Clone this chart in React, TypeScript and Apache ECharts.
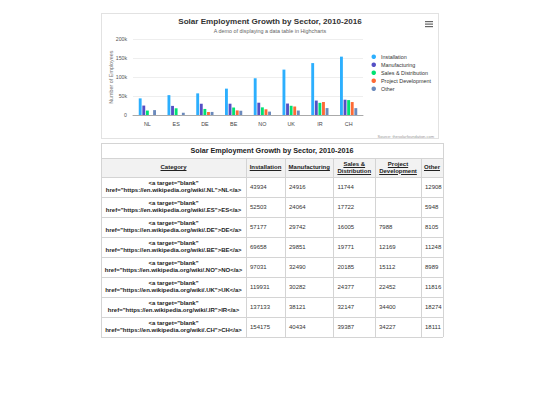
import React, { useEffect, useRef } from "react";
import * as echarts from "echarts";

const categories = ["NL", "ES", "DE", "BE", "NO", "UK", "IR", "CH"];
const installation = [43934, 52503, 57177, 69658, 97031, 119931, 137133, 154175];
const manufacturing = [24916, 24064, 29742, 29851, 32490, 30282, 38121, 40434];
const salesDistribution = [11744, 17722, 16005, 19771, 20185, 24377, 32147, 39387];
const projectDevelopment: (number | null)[] = [null, null, 7988, 12169, 15112, 22452, 34400, 34227];
const other = [12908, 5948, 8105, 11248, 8989, 11816, 18274, 18111];
const seriesNames = ["Installation", "Manufacturing", "Sales & Distribution", "Project Development", "Other"];
const seriesColors = ["#2caffe", "#544fc5", "#00e272", "#fe6a35", "#6b8abc"];
const yTickLabels = ["0", "50k", "100k", "150k", "200k"];
const tableHeaders = [["Category"], ["Installation"], ["Manufacturing"], ["Sales &", "Distribution"], ["Project", "Development"], ["Other"]];
const titleText = "Solar Employment Growth by Sector, 2010-2016";

const FONT = '"Liberation Sans", Arial, Helvetica, sans-serif';

const ChartBox: React.FC = () => {
  const ref = useRef<HTMLDivElement>(null);
  useEffect(() => {
    if (!ref.current) return;
    const chart = echarts.init(ref.current, undefined, { renderer: "svg" });
    const allSeries = [installation, manufacturing, salesDistribution, projectDevelopment, other];
    chart.setOption({
      animation: false,
      textStyle: { fontFamily: FONT },
      color: seriesColors,
      grid: { left: 32, right: 76, top: 26.3, bottom: 24, containLabel: false, outerBoundsMode: "none" },
      legend: {
        orient: "vertical",
        left: 270.5,
        top: 40.7,
        icon: "circle",
        itemWidth: 4.5,
        itemHeight: 4.5,
        itemGap: 2,
        padding: 0,
        textStyle: { fontSize: 5.4, lineHeight: 6, color: "#333", fontFamily: FONT },
        data: seriesNames,
      },
      xAxis: {
        type: "category",
        data: categories,
        axisTick: { show: false },
        axisLine: { lineStyle: { color: "#aaa", width: 1 } },
        axisLabel: { fontSize: 5.4, color: "#444", margin: 6, fontFamily: FONT },
      },
      yAxis: {
        type: "value",
        min: 0,
        max: 200000,
        interval: 50000,
        name: "Number of Employees",
        nameLocation: "middle",
        nameGap: 20,
        nameMoveOverlap: false,
        nameTextStyle: { fontSize: 5.4, color: "#777", fontFamily: FONT },
        axisLabel: {
          fontSize: 5.2,
          color: "#555",
          margin: 6,
          fontFamily: FONT,
          formatter: (v: number) => yTickLabels[Math.round(v / 50000)] ?? "",
        },
        splitLine: { lineStyle: { color: "#eeeeee", width: 1 } },
        axisLine: { show: false },
      },
      series: allSeries.map((d, i) => ({
        type: "bar",
        name: seriesNames[i],
        data: d.map((v) => (v === null ? "-" : v)),
        barCategoryGap: "40%",
        barGap: "25%",
        itemStyle: { color: seriesColors[i] },
      })),
      graphic: [
        {
          type: "text",
          x: 169,
          y: 8,
          style: { text: titleText, fontSize: 8.1, fontWeight: "bold", fill: "#333", align: "center", verticalAlign: "middle", fontFamily: FONT },
        },
        {
          type: "text",
          x: 169,
          y: 17.7,
          style: { text: "A demo of displaying a data table in Highcharts", fontSize: 5.4, fill: "#666", align: "center", verticalAlign: "middle", fontFamily: FONT },
        },
        {
          type: "text",
          x: 333,
          y: 123.7,
          style: { text: "Source: thesolarfoundation.com", fontSize: 4, fill: "#999", align: "right", verticalAlign: "middle", fontFamily: FONT },
        },
        { type: "rect", shape: { x: 324, y: 8, width: 8, height: 1.2 }, style: { fill: "#666" } },
        { type: "rect", shape: { x: 324, y: 10.5, width: 8, height: 1.2 }, style: { fill: "#666" } },
        { type: "rect", shape: { x: 324, y: 13, width: 8, height: 1.2 }, style: { fill: "#666" } },
      ],
    });
    return () => chart.dispose();
  }, []);
  return (
    <>
      <div ref={ref} style={{ position: "absolute", left: 101, top: 13, width: 338, height: 126 }} />
      <div
        style={{
          position: "absolute",
          left: 101,
          top: 13,
          width: 338,
          height: 126,
          border: "1px solid #e2e2e2",
          boxSizing: "border-box",
          pointerEvents: "none",
        }}
      />
    </>
  );
};

const colEdges = [101, 246, 285, 333.5, 375, 421, 443];
const tableTop = 143.3;
const captionBottom = 158.3;
const headerBottom = 177.2;
const rowH = 20;
const lineColor = "#d4d4d4";

const DataTable: React.FC = () => {
  const valueCols = [installation, manufacturing, salesDistribution, projectDevelopment, other];
  const bottom = headerBottom + rowH * categories.length;
  const left = colEdges[0];
  const right = colEdges[colEdges.length - 1];
  const els: React.ReactNode[] = [];
  els.push(
    <div key="hbg" style={{ position: "absolute", left, top: captionBottom, width: right - left, height: headerBottom - captionBottom, background: "#f2f2f2" }} />
  );
  const hLines = [tableTop, captionBottom, headerBottom];
  for (let i = 1; i <= categories.length; i++) hLines.push(headerBottom + i * rowH);
  hLines.forEach((y, i) =>
    els.push(<div key={"h" + i} style={{ position: "absolute", left, top: y - 0.5, width: right - left, height: 1, background: lineColor }} />)
  );
  colEdges.forEach((x, i) => {
    const outer = i === 0 || i === colEdges.length - 1;
    const top = outer ? tableTop : captionBottom;
    els.push(<div key={"v" + i} style={{ position: "absolute", left: x - 0.5, top, width: 1, height: bottom - top, background: lineColor }} />);
  });
  els.push(
    <div
      key="cap"
      style={{
        position: "absolute",
        left,
        top: tableTop,
        width: right - left,
        height: captionBottom - tableTop,
        display: "flex",
        alignItems: "center",
        justifyContent: "center",
        fontSize: 7.2,
        fontWeight: "bold",
        color: "#222",
      }}
    >
      {titleText}
    </div>
  );
  tableHeaders.forEach((lines, c) => {
    els.push(
      <div
        key={"th" + c}
        style={{
          position: "absolute",
          left: colEdges[c],
          top: captionBottom,
          width: colEdges[c + 1] - colEdges[c],
          height: headerBottom - captionBottom,
          display: "flex",
          flexDirection: "column",
          alignItems: "center",
          justifyContent: "center",
          fontSize: 6,
          lineHeight: "6.8px",
          fontWeight: "bold",
          color: "#222",
          textAlign: "center",
        }}
      >
        {lines.map((l, k) => (
          <span key={k} style={{ textDecoration: "underline", whiteSpace: "nowrap" }}>
            {l}
          </span>
        ))}
      </div>
    );
  });
  categories.forEach((cat, r) => {
    const top = headerBottom + r * rowH;
    els.push(
      <div
        key={"cat" + r}
        style={{
          position: "absolute",
          left: colEdges[0],
          top,
          width: colEdges[1] - colEdges[0],
          height: rowH,
          display: "flex",
          flexDirection: "column",
          alignItems: "center",
          justifyContent: "center",
          fontSize: 6,
          lineHeight: "7.2px",
          fontWeight: "bold",
          color: "#222",
          whiteSpace: "nowrap",
        }}
      >
        <span>{'<a target="blank"'}</span>
        <span>{'href="https://en.wikipedia.org/wiki/.' + cat + '">' + cat + "</a>"}</span>
      </div>
    );
    valueCols.forEach((col, c) => {
      const v = col[r];
      els.push(
        <div
          key={"v" + r + "_" + c}
          style={{
            position: "absolute",
            left: colEdges[c + 1],
            top,
            width: colEdges[c + 2] - colEdges[c + 1],
            height: rowH,
            display: "flex",
            alignItems: "center",
            paddingLeft: 4,
            boxSizing: "border-box",
            fontSize: 6,
            color: "#333",
            whiteSpace: "nowrap",
          }}
        >
          {v === null ? "" : String(v)}
        </div>
      );
    });
  });
  return <>{els}</>;
};

export default function App() {
  return (
    <div style={{ position: "absolute", left: 0, top: 0, width: 540, height: 405, background: "#fff", fontFamily: FONT, overflow: "hidden" }}>
      <ChartBox />
      <DataTable />
    </div>
  );
}
